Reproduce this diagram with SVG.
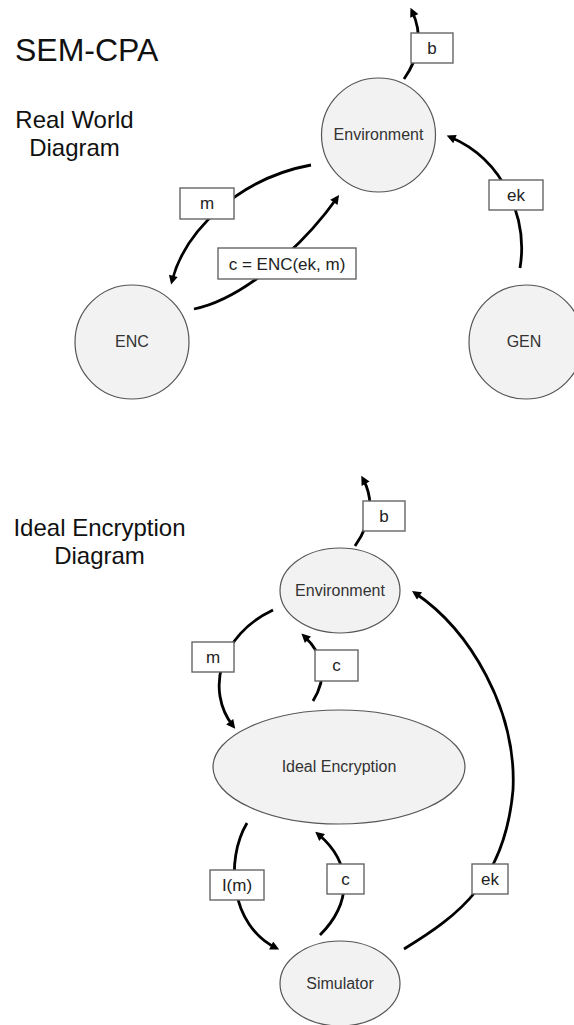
<svg xmlns="http://www.w3.org/2000/svg" width="574" height="1025" viewBox="0 0 574 1025">
  <style>
    .title { font-family: "Liberation Sans", Arial, sans-serif; fill: #111; }
    .node { fill: #f2f2f2; stroke: #555; stroke-width: 1.2; }
    .ntext { font-family: "Liberation Sans", Arial, sans-serif; font-size: 16px; fill: #333; text-anchor: middle; }
    .edge { fill: none; stroke: #000; stroke-width: 2.8; marker-end: url(#arr); }
    .lbox { fill: #fff; stroke: #666; stroke-width: 1.4; }
    .ltext { font-family: "Liberation Sans", Arial, sans-serif; font-size: 17px; fill: #222; text-anchor: middle; }
  </style>
  <defs>
    <marker id="arr" viewBox="0 0 10 10" refX="6" refY="5" markerWidth="10" markerHeight="9" markerUnits="userSpaceOnUse" orient="auto">
      <path d="M0,0 L10,5 L0,10 z" fill="#000"/>
    </marker>
  </defs>
  <rect width="574" height="1025" fill="#fff"/>

  <!-- headings -->
  <text class="title" x="15" y="61" font-size="32">SEM-CPA</text>
  <text class="title" x="74.5" y="128" font-size="24" text-anchor="middle">Real World</text>
  <text class="title" x="74.5" y="156" font-size="24" text-anchor="middle">Diagram</text>
  <text class="title" x="99.5" y="536" font-size="24" text-anchor="middle">Ideal Encryption</text>
  <text class="title" x="99.5" y="564" font-size="24" text-anchor="middle">Diagram</text>

  <!-- connectors with their labels -->
  <g id="connectors">
    <!-- real world -->
    <path class="edge" d="M404,79 Q428,45 412,11"/>
    <path class="edge" d="M311,165 C240,178 185,230 172,281"/>
    <path class="edge" d="M194,309 C240,300 300,250 337,198"/>
    <path class="edge" d="M520,268 C528,220 505,160 450,137"/>
    <!-- ideal encryption -->
    <path class="edge" d="M355,546 Q380,510 363,479"/>
    <path class="edge" d="M273,610 C220,635 205,690 233,726"/>
    <path class="edge" d="M313,701 Q335,665 304,636"/>
    <path class="edge" d="M247,823 C225,860 230,925 276,948"/>
    <path class="edge" d="M320,935 C350,905 355,865 318,834"/>
    <path class="edge" d="M404,949 C460,915 505,880 513,790 C517,710 470,630 415,593"/>

    <g id="lbl-b1"><rect class="lbox" x="411" y="33" width="42" height="30"/><text class="ltext" x="432" y="54">b</text></g>
    <g id="lbl-m1"><rect class="lbox" x="180" y="188" width="54" height="31"/><text class="ltext" x="207" y="209">m</text></g>
    <g id="lbl-c1"><rect class="lbox" x="218" y="248" width="138" height="31"/><text class="ltext" x="287" y="270">c = ENC(ek, m)</text></g>
    <g id="lbl-ek1"><rect class="lbox" x="489" y="180" width="54" height="30"/><text class="ltext" x="516" y="201">ek</text></g>

    <g id="lbl-b2"><rect class="lbox" x="363" y="501" width="42" height="30"/><text class="ltext" x="384" y="522">b</text></g>
    <g id="lbl-m2"><rect class="lbox" x="192" y="642" width="42" height="30"/><text class="ltext" x="213" y="663">m</text></g>
    <g id="lbl-c2"><rect class="lbox" x="315" y="650" width="43" height="31"/><text class="ltext" x="336.5" y="671">c</text></g>
    <g id="lbl-lm"><rect class="lbox" x="210" y="870" width="54" height="30"/><text class="ltext" x="237" y="891">I(m)</text></g>
    <g id="lbl-c3"><rect class="lbox" x="327" y="864" width="37" height="30"/><text class="ltext" x="345.5" y="885">c</text></g>
    <g id="lbl-ek2"><rect class="lbox" x="472" y="864" width="36" height="30"/><text class="ltext" x="490" y="885">ek</text></g>
  </g>

  <!-- real world nodes -->
  <g id="env1"><circle class="node" cx="378.5" cy="135" r="57"/><text class="ntext" x="378.5" y="140">Environment</text></g>
  <g id="enc"><circle class="node" cx="132" cy="342" r="57"/><text class="ntext" x="132" y="347">ENC</text></g>
  <g id="gen"><circle class="node" cx="526" cy="342" r="57"/><text class="ntext" x="524" y="347">GEN</text></g>

  <!-- ideal encryption nodes -->
  <g id="env2"><ellipse class="node" cx="340" cy="590.5" rx="60" ry="42.5"/><text class="ntext" x="340" y="596">Environment</text></g>
  <g id="ideal"><ellipse class="node" cx="339" cy="767" rx="126" ry="57"/><text class="ntext" x="339" y="772">Ideal Encryption</text></g>
  <g id="sim"><ellipse class="node" cx="340" cy="983.5" rx="60" ry="42.5"/><text class="ntext" x="340" y="989">Simulator</text></g>
</svg>
